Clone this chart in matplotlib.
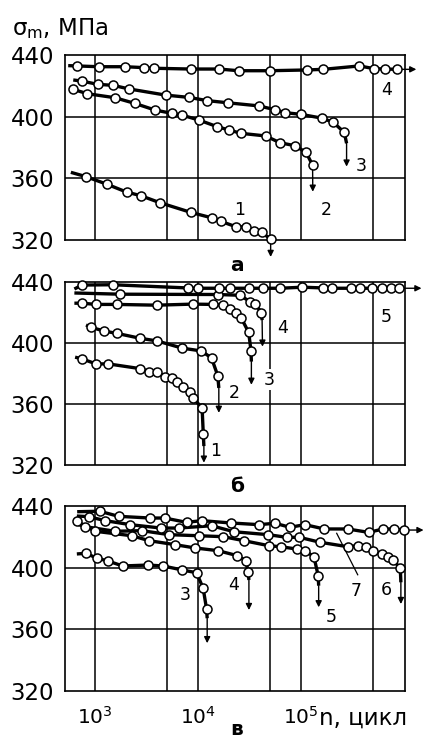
import numpy as np
import matplotlib
matplotlib.use("Agg")
import matplotlib.pyplot as plt
from matplotlib.ticker import NullLocator

# ── values: lg(n, cycles) of every circle and sigma_m, MPa ──
# "start" = where the drawn line begins before the first circle,
# "tail"  = end of the thick part after the last circle, "tip" = arrow tip

# panel а
A1_LG = [2.913, 3.120, 3.307, 3.443, 3.631, 3.932, 4.139, 4.223, 4.369, 4.463, 4.544, 4.618, 4.706]
A1_S = [361.1, 356.1, 351.1, 348.8, 344.2, 337.9, 334.3, 332.1, 328.6, 328.6, 326.1, 325.0, 320.6]
A1_START, A1_TIP = (2.767, 363.9), (4.706, 309.0)

A2_LG = [2.790, 2.926, 3.194, 3.388, 3.583, 3.744, 3.841, 4.010, 4.188, 4.298, 4.417, 4.657,
         4.796, 4.939, 5.049, 5.113]
A2_S = [417.7, 414.9, 412.3, 408.6, 404.3, 402.2, 401.1, 397.8, 393.5, 391.4, 389.2, 387.5,
        383.1, 381.2, 376.9, 368.6]
A2_TIP = (5.115, 351.3)

A3_LG = [2.871, 3.026, 3.178, 3.330, 3.686, 3.913, 4.091, 4.291, 4.589, 4.751, 4.845, 5.000,
         5.207, 5.314, 5.421]
A3_S = [423.1, 421.0, 420.3, 418.0, 414.0, 412.5, 410.4, 409.0, 407.0, 404.5, 402.6, 401.5,
        399.0, 396.3, 389.8]
A3_START, A3_TAIL, A3_TIP = (2.790, 423.8), (5.443, 382.7), (5.443, 367.6)

A4_LG = [2.828, 3.036, 3.291, 3.479, 3.573, 3.929, 4.204, 4.395, 4.699, 5.058, 5.217, 5.566,
         5.706, 5.819, 5.929]
A4_S = [432.9, 432.4, 432.4, 431.8, 431.4, 430.9, 430.9, 429.8, 429.8, 430.3, 430.7, 432.9,
        431.2, 430.9, 430.7]
A4_START, A4_TIP = (2.741, 433.1), (6.12, 430.7)

# panel б
B1_LG = [2.875, 3.011, 3.130, 3.439, 3.530, 3.607, 3.678, 3.752, 3.801, 3.859, 3.923, 3.956,
         4.041, 4.052]
B1_S = [389.6, 386.3, 386.3, 383.2, 381.3, 381.3, 378.0, 377.0, 374.1, 371.1, 367.6, 363.9,
        357.3, 340.5]
B1_START, B1_TAIL, B1_TIP = (2.808, 390.7), (4.058, 332.4), (4.058, 321.5)

B2_LG = [2.962, 3.091, 3.214, 3.439, 3.607, 3.849, 4.033, 4.132, 4.193]
B2_S = [410.3, 407.8, 406.3, 403.1, 401.3, 396.6, 394.8, 390.2, 378.5]
B2_START, B2_TAIL, B2_TIP = (2.914, 411.8), (4.203, 370.5), (4.203, 354.2)

B3_LG = [2.875, 3.014, 3.211, 3.601, 3.949, 4.149, 4.239, 4.311, 4.369, 4.423, 4.493, 4.515]
B3_S = [426.1, 425.3, 425.3, 424.8, 425.5, 425.3, 424.8, 422.0, 419.6, 416.1, 406.9, 395.0]
B3_START, B3_TAIL, B3_TIP = (2.801, 426.1), (4.519, 387.8), (4.519, 372.6)

B4_LG = [3.244, 4.193, 4.406, 4.510, 4.558, 4.616]
B4_S = [432.0, 431.8, 431.3, 427.0, 425.3, 420.0]
B4_START, B4_TAIL, B4_TIP = (2.801, 432.8), (4.623, 415.0), (4.627, 397.6)

B5_LG = [2.875, 3.175, 3.900, 3.997, 4.200, 4.307, 4.500, 4.636, 4.800, 5.013, 5.216, 5.303,
         5.487, 5.574, 5.690, 5.786, 5.873, 5.951]
B5_S = [438.0, 438.2, 436.1, 435.9, 435.9, 435.9, 435.9, 435.9, 435.9, 436.6, 436.1, 435.9,
        435.9, 435.9, 435.9, 435.9, 435.9, 435.9]
B5_START, B5_TIP = (2.801, 435.4), (6.17, 435.9)

# panel в
C3_LG = [2.913, 3.022, 3.129, 3.269, 3.517, 3.663, 3.848, 3.987, 4.051, 4.084]
C3_S = [409.3, 406.1, 404.3, 401.1, 401.7, 401.1, 398.5, 396.7, 386.6, 373.2]
C3_START, C3_TAIL, C3_TIP = (2.825, 408.9), (4.090, 367.2), (4.090, 351.0)

C4_LG = [2.825, 3.003, 3.359, 3.527, 3.780, 3.971, 4.197, 4.382, 4.466, 4.488]
C4_S = [430.1, 423.6, 420.7, 417.5, 414.9, 412.8, 411.0, 407.8, 404.5, 397.0]
C4_TAIL, C4_TIP = (4.495, 392.0), (4.495, 372.5)

C5_LG = [2.906, 3.197, 3.456, 3.721, 4.013, 4.246, 4.447, 4.692, 4.803, 4.958, 5.039, 5.126, 5.168]
C5_S = [426.6, 423.6, 424.0, 421.4, 420.7, 420.1, 417.5, 414.2, 413.6, 412.1, 411.0, 407.1, 394.6]
C5_START, C5_TAIL, C5_TIP = (2.825, 428.3), (5.172, 388.3), (5.172, 374.3)

C6_LG = [2.939, 3.100, 3.343, 3.641, 3.813, 4.133, 4.350, 4.683, 4.861, 4.983, 5.184, 5.453,
         5.550, 5.631, 5.702, 5.786, 5.842, 5.890, 5.964]
C6_S = [433.1, 430.5, 427.9, 425.7, 425.7, 427.2, 423.3, 421.4, 419.7, 419.7, 416.5, 413.6,
        414.3, 413.2, 411.0, 408.9, 407.1, 405.0, 399.8]
C6_START, C6_TAIL, C6_TIP = (2.825, 433.5), (5.970, 390.5), (5.970, 376.4)

C7_LG = [3.046, 3.230, 3.537, 3.677, 3.890, 4.036, 4.317, 4.592, 4.748, 4.893, 5.039, 5.226,
         5.453, 5.657, 5.799, 5.906, 6.003]
C7_S = [436.6, 433.3, 432.2, 432.2, 429.4, 430.5, 429.0, 427.9, 428.8, 426.2, 427.9, 425.1,
        425.1, 422.9, 425.1, 425.1, 424.4]
C7_START, C7_TIP = (2.828, 436.3), (6.19, 424.4)

GRID_N = [1e3, 5e3, 1e4, 5e4, 1e5, 5e5]
GRID_S = [360, 400]
Y_TICKS = [320, 360, 400, 440]
X_TICKS = [1e3, 1e4, 1e5]
X_TICKLABELS = [r"$10^3$", r"$10^4$", r"$10^5$"]

W, H = 426, 745
fig = plt.figure(figsize=(W / 100, H / 100), dpi=100)
fig.patch.set_facecolor("white")


def px_axes(left, top, right, bottom):
    return fig.add_axes([left / W, 1 - bottom / H, (right - left) / W, (bottom - top) / H])


def setup(ax, xlabels=False):
    ax.set_xscale("log")
    ax.set_xlim(10 ** 2.71, 10 ** 6.01)
    ax.set_ylim(320, 440)
    ax.set_yticks(Y_TICKS)
    ax.xaxis.set_minor_locator(NullLocator())
    if xlabels:
        ax.set_xticks(X_TICKS)
        ax.set_xticklabels(X_TICKLABELS)
    else:
        ax.set_xticks([])
    ax.tick_params(axis="y", length=0, labelsize=16.5, pad=8)
    ax.tick_params(axis="x", length=0, labelsize=14.5, pad=11)
    for v in GRID_S:
        ax.axhline(v, color="black", lw=1.1, zorder=1)
    for g in GRID_N:
        ax.axvline(g, color="black", lw=1.1, zorder=1)
    for sp in ax.spines.values():
        sp.set_linewidth(1.2)


def draw_curve(ax, lg, s, start=None, tail=None, tip=None):
    xs, ys = list(lg), list(s)
    if start is not None:
        xs, ys = [start[0]] + xs, [start[1]] + ys
    if tail is not None:
        xs, ys = xs + [tail[0]], ys + [tail[1]]
    ax.plot(10 ** np.array(xs), ys, color="black", lw=2.4, zorder=3,
            solid_capstyle="butt", clip_on=False)
    ax.plot(10 ** np.array(lg), s, ls="none", marker="o", ms=6.5, mfc="white",
            mec="black", mew=1.1, zorder=4, clip_on=False)
    if tip is not None:
        base = tail if tail is not None else (lg[-1], s[-1])
        ax.annotate("", xy=(10 ** tip[0], tip[1]), xytext=(10 ** base[0], base[1]),
                    arrowprops=dict(arrowstyle="-|>", color="black", lw=1.0,
                                    mutation_scale=9, shrinkA=0, shrinkB=0),
                    annotation_clip=False, zorder=3)


def num(ax, lg, s, txt):
    ax.text(10 ** lg, s, txt, fontsize=12.5, ha="center", va="center", zorder=2,
            bbox=dict(facecolor="white", edgecolor="none", pad=1))


# ── panel а ──
ax_a = px_axes(65, 55, 405, 240)
setup(ax_a)
draw_curve(ax_a, A1_LG, A1_S, start=A1_START, tip=A1_TIP)
draw_curve(ax_a, A2_LG, A2_S, tip=A2_TIP)
draw_curve(ax_a, A3_LG, A3_S, start=A3_START, tail=A3_TAIL, tip=A3_TIP)
draw_curve(ax_a, A4_LG, A4_S, start=A4_START, tip=A4_TIP)
num(ax_a, 4.408, 339.5, "1")
num(ax_a, 5.243, 339.5, "2")
num(ax_a, 5.589, 367.8, "3")
num(ax_a, 5.832, 417.3, "4")

# ── panel б ──
ax_b = px_axes(65, 282, 405, 465)
setup(ax_b)
draw_curve(ax_b, B1_LG, B1_S, start=B1_START, tail=B1_TAIL, tip=B1_TIP)
draw_curve(ax_b, B2_LG, B2_S, start=B2_START, tail=B2_TAIL, tip=B2_TIP)
draw_curve(ax_b, B3_LG, B3_S, start=B3_START, tail=B3_TAIL, tip=B3_TIP)
draw_curve(ax_b, B4_LG, B4_S, start=B4_START, tail=B4_TAIL, tip=B4_TIP)
draw_curve(ax_b, B5_LG, B5_S, start=B5_START, tip=B5_TIP)
num(ax_b, 4.171, 329.0, "1")
num(ax_b, 4.348, 367.2, "2")
num(ax_b, 4.696, 375.9, "3")
num(ax_b, 4.826, 409.6, "4")
num(ax_b, 5.832, 417.2, "5")

# ── panel в ──
ax_c = px_axes(65, 506, 405, 691)
setup(ax_c, xlabels=True)
draw_curve(ax_c, C3_LG, C3_S, start=C3_START, tail=C3_TAIL, tip=C3_TIP)
draw_curve(ax_c, C4_LG, C4_S, tail=C4_TAIL, tip=C4_TIP)
draw_curve(ax_c, C5_LG, C5_S, start=C5_START, tail=C5_TAIL, tip=C5_TIP)
draw_curve(ax_c, C6_LG, C6_S, start=C6_START, tail=C6_TAIL, tip=C6_TIP)
draw_curve(ax_c, C7_LG, C7_S, start=C7_START, tip=C7_TIP)
ax_c.plot([10 ** 5.347, 10 ** 5.551], [422.3, 395.4], color="black", lw=0.9, zorder=2)
num(ax_c, 3.874, 382.3, "3")
num(ax_c, 4.343, 388.8, "4")
num(ax_c, 5.298, 368.2, "5")
num(ax_c, 5.534, 384.9, "7")
num(ax_c, 5.825, 385.5, "6")
ax_c.text(0.748, -0.184, "n, цикл", transform=ax_c.transAxes, fontsize=16.5,
          ha="left", va="baseline")

# panel letters and y label
for ytop, letter in [(271, "а"), (492, "б"), (735, "в")]:
    fig.text(237 / W, 1 - ytop / H, letter, fontsize=14.5, fontweight="bold",
             ha="center", va="baseline")
fig.text(12 / W, 1 - 35 / H, "σ$_\\mathregular{m}$, МПа", fontsize=16.5,
         ha="left", va="baseline")

fig.savefig("out.png", dpi=100, facecolor="white")
